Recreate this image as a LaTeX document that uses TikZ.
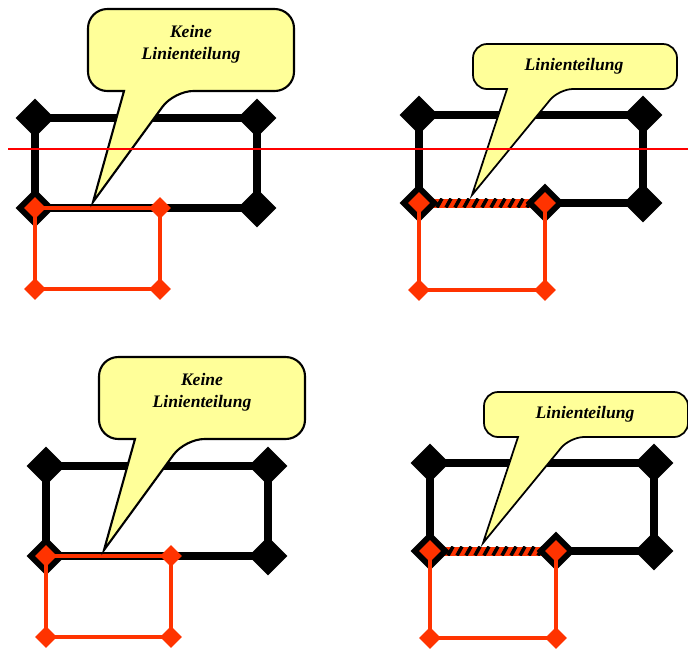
\documentclass[tikz,border=0pt]{standalone}
\usepackage{fontspec}
\setmainfont{Liberation Serif}
\usepackage{tikz}
\usetikzlibrary{shapes.geometric}
\definecolor{linienrot}{HTML}{FF3300}
\definecolor{schnittrot}{HTML}{FF0000}
\definecolor{blasengelb}{HTML}{FFFF99}

\tikzset{
  linie/.style={line width=5.1pt},
  kante/.style={linienrot, line width=2.5pt},
  knoten/.style={diamond, fill=black, inner sep=0pt, minimum size=0.78cm},
  kantenknoten/.style={diamond, fill=linienrot, inner sep=0pt, minimum size=0.44cm},
  blase/.style={draw=black, fill=blasengelb, line width=1.2pt, rounded corners=11pt},
  blasentext/.style={align=center, font=\fontsize{10}{12.5}\selectfont\bfseries\itshape},
  schnitt/.style={schnittrot, line width=0.9pt}
}

% #1 Name, #2 Ecke oben links, #3 Art (0 = keine Teilung, 1 = Teilung), #4 Text
\newcommand{\teilfall}[4]{%
  \ifnum#3=1 \def\bw{224}\def\bh{88}\def\rw{126}\def\rh{87}%
  \else \def\bw{222}\def\bh{90}\def\rw{125}\def\rh{81}\fi
  \begin{scope}[shift={(#2)}]
    \coordinate (#1ol) at (0,0);
    \coordinate (#1or) at (\bw,0);
    \coordinate (#1ur) at (\bw,\bh);
    \coordinate (#1ul) at (0,\bh);
    \coordinate (#1ror) at (\rw,\bh);
    \coordinate (#1rur) at (\rw,{\bh+\rh});
    \coordinate (#1rul) at (0,{\bh+\rh});
    % schwarze Linie
    \draw[linie] (#1ol) -- (#1or) -- (#1ur) -- (#1ul) -- cycle;
    \ifnum#3=1
      \begin{scope}
        \clip (0,{\bh-4.5}) rectangle (\rw,{\bh+4.5});
        \fill[linienrot] (0,{\bh-4.5}) rectangle (\rw,{\bh+4.5});
        \foreach \s in {-9,0,...,135}
          \draw[line width=2pt] (\s,{\bh+4.5}) -- ({\s+5},{\bh-4.5});
      \end{scope}
    \fi
    \node[knoten] (#1k1) at (#1ol) {};
    \node[knoten] (#1k2) at (#1or) {};
    \node[knoten] (#1k3) at (#1ur) {};
    \node[knoten] (#1k4) at (#1ul) {};
    \ifnum#3=1 \node[knoten] (#1k5) at (#1ror) {}; \fi
    % rote Linie
    \ifnum#3=1
      \draw[kante] (#1ul) -- (#1rul) -- (#1rur) -- (#1ror);
    \else
      \draw[kante] (#1ul) -- (#1ror) -- (#1rur) -- (#1rul) -- cycle;
    \fi
    \node[kantenknoten] (#1r1) at (#1ul) {};
    \node[kantenknoten] (#1r2) at (#1ror) {};
    \node[kantenknoten] (#1r3) at (#1rur) {};
    \node[kantenknoten] (#1r4) at (#1rul) {};
    % Sprechblase
    \ifnum#3=1
      \draw[blase, line width=1pt, rounded corners=8pt] (54,-71) -- (258,-71) -- (258,-26) -- (140,-26)
        [sharp corners] -- (53,80) -- (88,-26) [rounded corners=8pt] -- (54,-26) -- cycle;
      \node[blasentext] (#1txt) at (155,-49) {#4};
    \else
      \draw[blase] (53,-109) -- (259,-109) -- (259,-27) -- (139,-27)
        [sharp corners] -- (58,84) -- (89,-27) [rounded corners=11pt] -- (53,-27) -- cycle;
      \node[blasentext] (#1txt) at (156,-74) {#4};
    \fi
  \end{scope}}

\begin{document}
\begin{tikzpicture}[x=0.02cm, y=-0.02cm]
\useasboundingbox (0,0) rectangle (688,653);

\teilfall{a}{35,118}{0}{Keine\\Linienteilung}
\teilfall{b}{419,115}{1}{Linienteilung}
\teilfall{c}{46,466}{0}{Keine\\Linienteilung}
\teilfall{d}{430,463}{1}{Linienteilung}

\coordinate (schnittl) at (8,149);
\coordinate (schnittr) at (688,149);
\draw[schnitt] (schnittl) -- (schnittr);

\end{tikzpicture}
\end{document}
